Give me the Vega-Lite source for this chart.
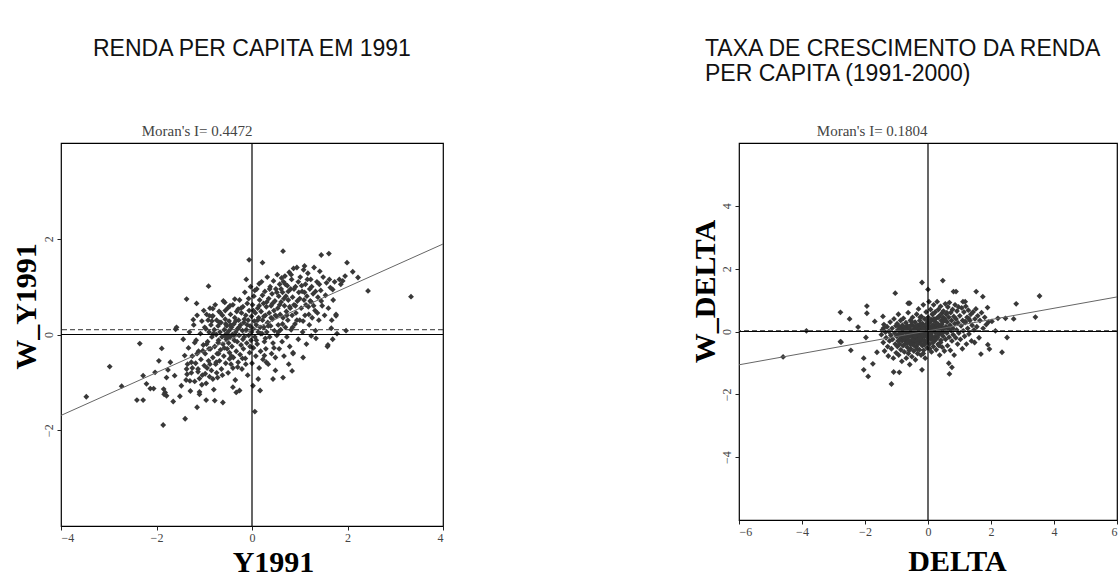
{
  "$schema": "https://vega.github.io/schema/vega-lite/v6.json",
  "background": "white",
  "padding": {"left": 10, "top": 37, "right": 0, "bottom": 0},
  "config": {
    "view": {"stroke": "black", "strokeWidth": 1.2},
    "axis": {"domain": false, "grid": false, "tickColor": "#222", "tickSize": 4, "labelFont": "Liberation Serif", "labelFontSize": 12, "labelColor": "#444", "labelPadding": 2, "titleFont": "Liberation Serif", "titleFontSize": 30, "titleFontWeight": "bold", "titleColor": "black"},
    "title": {"font": "Liberation Sans", "fontSize": 23, "fontWeight": "normal", "color": "#111", "frame": "group"}
  },
  "spacing": 243,
  "datasets": {
    "left": [
      {"x":-3.47,"y":-1.30},{"x":-2.98,"y":-0.67},{"x":-2.73,"y":-1.08},{"x":-2.35,"y":-0.19},{"x":-2.41,"y":-1.37},{"x":-2.28,"y":-1.37},{"x":-2.28,"y":-0.86},{"x":-2.21,"y":-1.03},{"x":-2.13,"y":-1.13},{"x":-2.06,"y":-1.13},{"x":-2.03,"y":-0.79},{"x":-1.95,"y":-0.55},{"x":-1.89,"y":-0.29},{"x":-1.86,"y":-1.89},{"x":-1.85,"y":-1.14},{"x":-1.82,"y":-1.21},{"x":-1.79,"y":-1.28},{"x":-1.84,"y":-1.25},{"x":-1.79,"y":-0.90},{"x":-1.76,"y":-0.74},{"x":-1.71,"y":-0.58},{"x":-1.65,"y":-1.40},{"x":-1.62,"y":-0.86},{"x":-1.60,"y":0.11},{"x":-1.58,"y":0.15},{"x":-1.51,"y":-1.29},{"x":-1.48,"y":-1.07},{"x":-1.44,"y":-0.10},{"x":-1.41,"y":-0.44},{"x":-1.40,"y":-1.76},{"x":-1.37,"y":0.74},{"x":-1.37,"y":-0.72},{"x":-1.36,"y":-0.83},{"x":-1.30,"y":-0.97},{"x":-1.27,"y":-0.58},{"x":-1.23,"y":0.31},{"x":-1.20,"y":-0.17},{"x":-1.16,"y":0.65},{"x":-1.15,"y":-1.52},{"x":-1.13,"y":-0.78},{"x":-1.10,"y":-0.92},{"x":-1.10,"y":-1.20},{"x":-1.03,"y":-0.34},{"x":-0.99,"y":0.15},{"x":-0.96,"y":-1.37},{"x":-0.91,"y":1.01},{"x":-0.89,"y":0.39},{"x":-0.82,"y":0.39},{"x":-0.82,"y":0.54},{"x":-0.82,"y":-0.93},{"x":-0.78,"y":-1.38},{"x":-0.75,"y":-0.58},{"x":-0.71,"y":-0.17},{"x":-0.68,"y":0.25},{"x":-0.61,"y":-1.42},{"x":-0.57,"y":0.67},{"x":-0.54,"y":-0.03},{"x":-0.47,"y":-0.51},{"x":-0.40,"y":-1.10},{"x":-0.33,"y":-1.21},{"x":-0.26,"y":-1.17},{"x":-0.36,"y":0.74},{"x":-0.29,"y":0.53},{"x":-0.12,"y":1.15},{"x":-0.06,"y":1.56},{"x":0.02,"y":-1.07},{"x":0.06,"y":-1.61},{"x":0.15,"y":1.06},{"x":0.17,"y":-1.17},{"x":0.22,"y":1.50},{"x":0.26,"y":-0.44},{"x":0.30,"y":-0.58},{"x":0.13,"y":-0.93},{"x":0.44,"y":-0.93},{"x":0.49,"y":-0.48},{"x":0.65,"y":1.74},{"x":0.65,"y":-0.90},{"x":0.77,"y":-0.62},{"x":0.84,"y":-0.76},{"x":0.86,"y":-0.38},{"x":1.07,"y":-0.48},{"x":1.10,"y":1.43},{"x":1.24,"y":-0.03},{"x":1.33,"y":0.08},{"x":1.45,"y":1.66},{"x":1.61,"y":1.69},{"x":1.59,"y":-0.22},{"x":1.69,"y":-0.10},{"x":1.66,"y":0.13},{"x":1.76,"y":0.39},{"x":1.97,"y":0.08},{"x":1.99,"y":1.50},{"x":2.11,"y":1.31},{"x":2.22,"y":1.19},{"x":2.43,"y":0.91},{"x":3.33,"y":0.79},{"x":1.83,"y":1.15},{"x":1.69,"y":0.94},
      {"x":-1.38,"y":-0.95},{"x":-1.35,"y":-0.62},{"x":-1.33,"y":-0.28},{"x":-1.31,"y":0.05},{"x":-1.29,"y":-1.18},{"x":-1.27,"y":-0.80},{"x":-1.25,"y":-0.45},{"x":-1.22,"y":0.20},{"x":-1.20,"y":-0.98},{"x":-1.18,"y":-0.60},{"x":-1.17,"y":-0.12},{"x":-1.15,"y":0.40},{"x":-1.13,"y":-0.72},{"x":-1.12,"y":-0.35},{"x":-1.10,"y":-1.25},{"x":-1.08,"y":0.02},{"x":-1.07,"y":-0.52},{"x":-1.05,"y":0.28},{"x":-1.04,"y":-0.85},{"x":-1.02,"y":-0.22},{"x":-1.01,"y":0.50},{"x":-1.00,"y":-0.65},
      {"x":-0.98,"y":-0.40},{"x":-0.97,"y":0.12},{"x":-0.96,"y":-1.02},{"x":-0.95,"y":0.42},{"x":-0.94,"y":-0.70},{"x":-0.93,"y":-0.15},{"x":-0.92,"y":0.30},{"x":-0.91,"y":-0.55},{"x":-0.90,"y":0.05},{"x":-0.89,"y":-0.88},{"x":-0.88,"y":0.55},{"x":-0.87,"y":-0.30},{"x":-0.86,"y":0.20},{"x":-0.85,"y":-0.75},{"x":-0.84,"y":-0.05},{"x":-0.83,"y":0.38},{"x":-0.82,"y":-0.48},{"x":-0.80,"y":-1.15},{"x":-0.79,"y":0.10},{"x":-0.78,"y":-0.25},{"x":-0.77,"y":0.62},{"x":-0.76,"y":-0.62},{"x":-0.75,"y":0.00},{"x":-0.74,"y":0.30},{"x":-0.73,"y":-0.40},{"x":-0.72,"y":-0.90},{"x":-0.71,"y":0.18},{"x":-0.70,"y":-0.12},{"x":-0.69,"y":0.48},{"x":-0.68,"y":-0.55},{"x":-0.67,"y":0.05},{"x":-0.66,"y":-0.32},{"x":-0.65,"y":0.25},{"x":-0.64,"y":-0.72},{"x":-0.63,"y":-0.05},{"x":-0.62,"y":0.40},{"x":-0.61,"y":-0.20},{"x":-0.60,"y":0.70},
      {"x":-0.59,"y":-0.45},{"x":-0.58,"y":0.10},{"x":-0.57,"y":-0.02},{"x":-0.56,"y":0.32},{"x":-0.55,"y":-0.60},{"x":-0.54,"y":-0.10},{"x":-0.53,"y":0.18},{"x":-0.52,"y":-0.30},{"x":-0.52,"y":0.03},{"x":-0.51,"y":0.55},{"x":-0.50,"y":-0.80},{"x":-0.49,"y":-0.18},{"x":-0.48,"y":0.08},{"x":-0.48,"y":0.28},{"x":-0.47,"y":-0.38},{"x":-0.46,"y":-0.05},{"x":-0.45,"y":0.42},{"x":-0.44,"y":-0.62},{"x":-0.43,"y":0.15},{"x":-0.42,"y":-0.25},{"x":-0.41,"y":0.00},{"x":-0.40,"y":0.62},{"x":-0.39,"y":-0.48},{"x":-0.38,"y":0.22},{"x":-0.37,"y":-0.12},{"x":-0.36,"y":0.35},{"x":-0.35,"y":-0.95},{"x":-0.34,"y":0.05},{"x":-0.33,"y":-0.35},{"x":-0.32,"y":0.48},{"x":-0.31,"y":-0.15},{"x":-0.30,"y":0.12},{"x":-0.29,"y":-0.58},{"x":-0.28,"y":0.30},{"x":-0.27,"y":-0.02},{"x":-0.26,"y":0.72},{"x":-0.25,"y":-0.42},{"x":-0.24,"y":0.20},{"x":-0.23,"y":-0.22},{"x":-0.22,"y":0.45},{"x":-0.21,"y":-0.72},{"x":-0.20,"y":0.08},
      {"x":-0.19,"y":0.58},{"x":-0.18,"y":-0.30},{"x":-0.17,"y":0.25},{"x":-0.16,"y":-0.05},{"x":-0.15,"y":0.88},{"x":-0.14,"y":-0.50},{"x":-0.13,"y":0.40},{"x":-0.12,"y":0.10},{"x":-0.11,"y":-0.18},{"x":-0.10,"y":0.65},{"x":-0.09,"y":-0.85},{"x":-0.08,"y":0.30},{"x":-0.07,"y":-0.02},{"x":-0.06,"y":0.50},{"x":-0.05,"y":-0.38},{"x":-0.04,"y":0.18},{"x":-0.03,"y":1.00},{"x":-0.02,"y":-0.12},{"x":-0.01,"y":0.38},{"x":0.00,"y":-0.60},{"x":0.01,"y":0.62},{"x":0.02,"y":0.12},{"x":0.03,"y":-0.28},{"x":0.04,"y":0.80},{"x":0.05,"y":0.28},{"x":0.06,"y":-0.05},{"x":0.07,"y":0.45},{"x":0.08,"y":-0.45},{"x":0.09,"y":0.20},{"x":0.10,"y":0.95},{"x":0.11,"y":-0.20},{"x":0.12,"y":0.55},{"x":0.13,"y":0.05},{"x":0.14,"y":0.35},{"x":0.15,"y":-0.70},{"x":0.16,"y":0.72},{"x":0.17,"y":0.15},{"x":0.18,"y":-0.35},{"x":0.19,"y":0.48},{"x":0.20,"y":1.10},
      {"x":0.21,"y":0.02},{"x":0.22,"y":0.30},{"x":0.23,"y":-0.52},{"x":0.24,"y":0.65},{"x":0.25,"y":0.15},{"x":0.26,"y":-0.15},{"x":0.27,"y":0.90},{"x":0.28,"y":0.40},{"x":0.29,"y":-0.30},{"x":0.30,"y":0.58},{"x":0.31,"y":0.05},{"x":0.32,"y":1.20},{"x":0.33,"y":0.25},{"x":0.34,"y":-0.62},{"x":0.35,"y":0.75},{"x":0.36,"y":0.45},{"x":0.37,"y":-0.05},{"x":0.38,"y":1.00},{"x":0.39,"y":0.18},{"x":0.40,"y":0.60},{"x":0.41,"y":-0.40},{"x":0.42,"y":0.85},{"x":0.43,"y":0.32},{"x":0.44,"y":-0.18},{"x":0.45,"y":1.12},{"x":0.46,"y":0.50},{"x":0.47,"y":0.08},{"x":0.48,"y":0.70},{"x":0.49,"y":-0.75},{"x":0.50,"y":0.95},{"x":0.51,"y":0.38},{"x":0.52,"y":-0.02},{"x":0.53,"y":1.25},{"x":0.54,"y":0.55},{"x":0.55,"y":0.20},{"x":0.56,"y":0.80},{"x":0.57,"y":-0.30},{"x":0.58,"y":1.05},{"x":0.59,"y":0.42},{"x":0.60,"y":0.10},
      {"x":0.61,"y":0.68},{"x":0.62,"y":1.18},{"x":0.63,"y":-0.15},{"x":0.64,"y":0.88},{"x":0.65,"y":0.35},{"x":0.66,"y":1.10},{"x":0.67,"y":-0.45},{"x":0.68,"y":0.60},{"x":0.69,"y":1.22},{"x":0.70,"y":0.15},{"x":0.71,"y":0.80},{"x":0.72,"y":0.48},{"x":0.73,"y":-0.05},{"x":0.74,"y":1.02},{"x":0.75,"y":0.30},{"x":0.76,"y":0.72},{"x":0.78,"y":1.30},{"x":0.79,"y":-0.25},{"x":0.80,"y":0.55},{"x":0.81,"y":0.95},{"x":0.82,"y":0.10},{"x":0.83,"y":1.15},{"x":0.84,"y":0.40},{"x":0.85,"y":0.78},{"x":0.86,"y":-0.40},{"x":0.87,"y":1.38},{"x":0.88,"y":0.62},{"x":0.90,"y":0.22},{"x":0.91,"y":1.00},{"x":0.92,"y":0.45},{"x":0.94,"y":1.40},{"x":0.95,"y":0.70},{"x":0.97,"y":-0.10},{"x":0.98,"y":0.88},{"x":1.00,"y":0.30},
      {"x":1.01,"y":1.20},{"x":1.03,"y":0.55},{"x":1.05,"y":0.90},{"x":1.06,"y":0.05},{"x":1.08,"y":1.35},{"x":1.09,"y":0.72},{"x":1.11,"y":0.40},{"x":1.12,"y":1.05},{"x":1.14,"y":-0.20},{"x":1.15,"y":0.80},{"x":1.17,"y":1.28},{"x":1.18,"y":0.58},{"x":1.20,"y":0.20},{"x":1.21,"y":0.95},{"x":1.23,"y":1.15},{"x":1.24,"y":0.68},{"x":1.26,"y":0.35},{"x":1.28,"y":0.85},{"x":1.30,"y":1.40},{"x":1.32,"y":0.50},{"x":1.34,"y":-0.08},{"x":1.36,"y":1.10},{"x":1.38,"y":0.78},{"x":1.40,"y":0.30},
      {"x":1.42,"y":1.32},{"x":1.44,"y":0.92},{"x":1.47,"y":0.60},{"x":1.49,"y":1.20},{"x":1.52,"y":0.40},{"x":1.54,"y":0.82},{"x":1.56,"y":1.08},{"x":1.58,"y":-0.25},{"x":1.60,"y":0.55},{"x":1.62,"y":1.15},{"x":1.64,"y":0.98},{"x":1.67,"y":0.30},{"x":1.70,"y":0.72},{"x":1.73,"y":1.10},{"x":1.76,"y":0.42},{"x":1.78,"y":0.02},{"x":1.86,"y":1.05},{"x":1.90,"y":1.12},{"x":1.95,"y":1.22},
      {"x":-0.95,"y":-0.20},{"x":-0.88,"y":-0.62},{"x":-0.81,"y":0.02},{"x":-0.74,"y":-0.80},{"x":-0.66,"y":0.45},{"x":-0.58,"y":-0.28},{"x":-0.55,"y":0.22},{"x":-0.50,"y":-0.05},{"x":-0.46,"y":0.60},{"x":-0.43,"y":-0.45},{"x":-0.38,"y":-0.02},{"x":-0.34,"y":0.28},{"x":-0.30,"y":-0.68},{"x":-0.27,"y":0.15},{"x":-0.23,"y":0.55},{"x":-0.19,"y":-0.10},{"x":-0.16,"y":0.32},{"x":-0.13,"y":-0.62},{"x":-0.10,"y":0.20},{"x":-0.07,"y":0.75},{"x":-0.04,"y":-0.25},{"x":-0.01,"y":0.05},{"x":0.03,"y":0.50},{"x":0.06,"y":0.92},{"x":0.09,"y":-0.12},{"x":0.12,"y":0.30},{"x":0.15,"y":0.60},{"x":0.18,"y":0.02},{"x":0.22,"y":0.82},{"x":0.25,"y":0.38},{"x":0.28,"y":-0.08},{"x":0.31,"y":0.68},{"x":0.34,"y":0.18},{"x":0.37,"y":0.95},{"x":0.40,"y":0.35},{"x":0.43,"y":0.65},{"x":0.46,"y":-0.28},{"x":0.49,"y":0.40},{"x":0.52,"y":0.88},{"x":0.55,"y":0.05},{"x":0.58,"y":0.62},{"x":0.61,"y":0.95},{"x":0.64,"y":0.22},{"x":0.67,"y":0.75},{"x":0.70,"y":1.05},{"x":0.73,"y":0.40},{"x":0.76,"y":0.90},{"x":0.79,"y":0.58},{"x":0.82,"y":1.25},{"x":0.85,"y":0.15},{"x":0.88,"y":0.95},{"x":0.91,"y":0.60},{"x":0.94,"y":0.30},{"x":0.97,"y":1.10},{"x":1.00,"y":0.75},{"x":1.04,"y":1.02},{"x":1.07,"y":0.28},{"x":1.10,"y":0.88},{"x":1.13,"y":0.62},{"x":1.16,"y":1.15},{"x":1.19,"y":0.42},{"x":1.22,"y":0.70},{"x":1.25,"y":1.00},{"x":1.29,"y":0.60},{"x":1.33,"y":0.90},{"x":1.37,"y":0.45},{"x":1.41,"y":1.05},{"x":1.45,"y":0.70},{"x":-1.25,"y":-0.70},{"x":-1.15,"y":-0.40},{"x":-1.05,"y":-1.05},{"x":-0.98,"y":-0.82},{"x":-0.90,"y":-0.30},{"x":-0.84,"y":0.28},{"x":-0.70,"y":-0.40},{"x":-0.62,"y":-0.85},{"x":-0.56,"y":0.50},{"x":-0.45,"y":0.20},{"x":-0.40,"y":-0.70},{"x":-0.20,"y":-0.50}
    ],
    "right": [
      {"x":-4.60,"y":-0.81},{"x":-3.86,"y":0.02},{"x":-2.78,"y":0.61},{"x":-2.78,"y":-0.32},{"x":-2.76,"y":-0.34},{"x":-2.49,"y":0.40},{"x":-2.45,"y":-0.60},{"x":-2.22,"y":0.14},{"x":-2.04,"y":-0.85},{"x":-2.04,"y":-1.22},{"x":-1.97,"y":-0.19},{"x":-1.94,"y":0.81},{"x":-1.94,"y":0.58},{"x":-1.90,"y":-1.43},{"x":-1.75,"y":-1.03},{"x":-1.69,"y":0.32},{"x":-1.62,"y":-0.66},{"x":-1.43,"y":0.48},{"x":-1.41,"y":0.11},{"x":-1.16,"y":-1.67},{"x":-1.09,"y":-1.29},{"x":-1.04,"y":1.22},{"x":-0.91,"y":-1.30},{"x":-0.63,"y":0.90},{"x":-0.58,"y":0.90},{"x":-0.19,"y":-1.22},{"x":-0.19,"y":1.56},{"x":0.00,"y":1.34},{"x":0.47,"y":1.62},{"x":0.66,"y":-1.01},{"x":0.68,"y":-1.35},{"x":0.76,"y":-1.14},{"x":0.81,"y":1.27},{"x":0.89,"y":1.27},{"x":1.11,"y":0.95},{"x":1.18,"y":0.95},{"x":1.53,"y":1.27},{"x":1.48,"y":-0.35},{"x":1.68,"y":-0.72},{"x":1.74,"y":1.11},{"x":1.89,"y":0.76},{"x":1.90,"y":-0.42},{"x":1.95,"y":-0.56},{"x":2.03,"y":0.32},{"x":2.14,"y":0.02},{"x":2.35,"y":-0.66},{"x":2.46,"y":0.42},{"x":2.51,"y":-0.19},{"x":2.72,"y":0.40},{"x":2.80,"y":0.88},{"x":3.41,"y":0.46},{"x":3.54,"y":1.13},{"x":2.22,"y":0.42},{"x":1.18,"y":0.32},{"x":1.29,"y":0.42},
      {"x":-1.48,"y":-0.10},{"x":-1.45,"y":0.05},{"x":-1.42,"y":-0.35},{"x":-1.40,"y":0.22},{"x":-1.38,"y":-0.62},{"x":-1.35,"y":-0.02},{"x":-1.33,"y":-0.20},{"x":-1.30,"y":0.15},{"x":-1.28,"y":-0.48},{"x":-1.26,"y":-0.78},{"x":-1.24,"y":0.00},{"x":-1.22,"y":-0.30},{"x":-1.20,"y":0.30},{"x":-1.18,"y":-0.12},{"x":-1.16,"y":-0.55},{"x":-1.14,"y":0.10},{"x":-1.12,"y":-0.25},{"x":-1.10,"y":-0.85},{"x":-1.08,"y":0.40},{"x":-1.06,"y":-0.05},{"x":-1.04,"y":-0.40},{"x":-1.02,"y":0.18},{"x":-1.01,"y":-0.68},
      {"x":-0.99,"y":-0.15},{"x":-0.98,"y":0.25},{"x":-0.97,"y":-0.48},{"x":-0.96,"y":0.05},{"x":-0.95,"y":-0.30},{"x":-0.94,"y":0.55},{"x":-0.93,"y":-0.75},{"x":-0.92,"y":-0.08},{"x":-0.91,"y":0.15},{"x":-0.90,"y":-0.40},{"x":-0.89,"y":0.00},{"x":-0.88,"y":-0.22},{"x":-0.87,"y":0.35},{"x":-0.86,"y":-0.58},{"x":-0.85,"y":-0.12},{"x":-0.84,"y":0.10},{"x":-0.83,"y":-0.95},{"x":-0.82,"y":-0.30},{"x":-0.81,"y":0.20},{"x":-0.80,"y":-0.05},{"x":-0.79,"y":-0.45},{"x":-0.78,"y":0.42},{"x":-0.77,"y":-0.18},{"x":-0.76,"y":0.02},{"x":-0.75,"y":-0.65},{"x":-0.74,"y":-0.28},{"x":-0.73,"y":0.12},{"x":-0.72,"y":-0.02},{"x":-0.71,"y":-0.38},{"x":-0.70,"y":0.28},{"x":-0.69,"y":-0.85},{"x":-0.68,"y":-0.12},{"x":-0.67,"y":0.05},{"x":-0.66,"y":-0.50},{"x":-0.65,"y":0.18},{"x":-0.64,"y":-0.25},{"x":-0.63,"y":0.60},{"x":-0.62,"y":-0.70},{"x":-0.61,"y":-0.05},{"x":-0.60,"y":-0.35},{"x":-0.59,"y":0.10},{"x":-0.58,"y":-1.05},{"x":-0.57,"y":-0.15},{"x":-0.56,"y":0.35},{"x":-0.55,"y":-0.55},{"x":-0.54,"y":0.00},{"x":-0.53,"y":-0.30},{"x":-0.52,"y":0.22},{"x":-0.51,"y":-0.80},{"x":-0.50,"y":-0.10},
      {"x":-0.49,"y":0.45},{"x":-0.48,"y":-0.40},{"x":-0.47,"y":0.05},{"x":-0.46,"y":-0.20},{"x":-0.45,"y":-0.62},{"x":-0.44,"y":0.15},{"x":-0.43,"y":-0.05},{"x":-0.42,"y":-0.32},{"x":-0.41,"y":0.30},{"x":-0.40,"y":-0.90},{"x":-0.39,"y":-0.12},{"x":-0.38,"y":0.08},{"x":-0.37,"y":-0.48},{"x":-0.36,"y":0.55},{"x":-0.35,"y":-0.25},{"x":-0.34,"y":0.00},{"x":-0.33,"y":-0.70},{"x":-0.32,"y":0.20},{"x":-0.31,"y":-0.15},{"x":-0.30,"y":0.72},{"x":-0.29,"y":-0.38},{"x":-0.28,"y":0.05},{"x":-0.27,"y":-0.58},{"x":-0.26,"y":0.35},{"x":-0.25,"y":-0.08},{"x":-0.24,"y":-0.30},{"x":-0.23,"y":0.12},{"x":-0.22,"y":-0.75},{"x":-0.21,"y":0.48},{"x":-0.20,"y":-0.18},{"x":-0.19,"y":0.02},{"x":-0.18,"y":-0.45},{"x":-0.17,"y":0.25},{"x":-0.16,"y":-0.10},{"x":-0.15,"y":0.85},{"x":-0.14,"y":-0.60},{"x":-0.13,"y":0.10},{"x":-0.12,"y":-0.28},{"x":-0.11,"y":0.40},{"x":-0.10,"y":-0.02},{"x":-0.09,"y":-0.85},{"x":-0.08,"y":0.18},{"x":-0.07,"y":-0.35},{"x":-0.06,"y":0.62},{"x":-0.05,"y":-0.12},{"x":-0.04,"y":0.05},{"x":-0.03,"y":-0.52},{"x":-0.02,"y":0.30},{"x":-0.01,"y":-0.20},
      {"x":-0.45,"y":-0.10},{"x":-0.40,"y":-0.22},{"x":-0.35,"y":-0.05},{"x":-0.32,"y":-0.32},{"x":-0.28,"y":-0.15},{"x":-0.25,"y":0.02},{"x":-0.22,"y":-0.25},{"x":-0.18,"y":-0.08},{"x":-0.15,"y":-0.30},{"x":-0.12,"y":0.00},{"x":-0.38,"y":-0.30},{"x":-0.30,"y":0.10},{"x":-0.20,"y":0.15},{"x":-0.42,"y":0.02},{"x":-0.10,"y":-0.15},
      {"x":0.01,"y":0.45},{"x":0.02,"y":-0.10},{"x":0.03,"y":0.95},{"x":0.04,"y":0.15},{"x":0.05,"y":-0.40},{"x":0.06,"y":0.28},{"x":0.07,"y":-0.05},{"x":0.08,"y":0.70},{"x":0.09,"y":-0.25},{"x":0.10,"y":0.08},{"x":0.11,"y":-0.65},{"x":0.12,"y":0.38},{"x":0.13,"y":0.00},{"x":0.14,"y":0.55},{"x":0.15,"y":-0.18},{"x":0.16,"y":0.20},{"x":0.17,"y":-0.48},{"x":0.18,"y":0.85},{"x":0.19,"y":0.05},{"x":0.20,"y":-0.30},{"x":0.21,"y":0.32},{"x":0.22,"y":-0.02},{"x":0.23,"y":0.62},{"x":0.24,"y":-0.15},{"x":0.25,"y":0.15},{"x":0.26,"y":-0.58},{"x":0.27,"y":0.42},{"x":0.28,"y":0.02},{"x":0.29,"y":0.95},{"x":0.30,"y":-0.20},{"x":0.31,"y":0.25},{"x":0.32,"y":-0.40},{"x":0.33,"y":0.70},{"x":0.34,"y":0.08},{"x":0.35,"y":-0.10},{"x":0.36,"y":0.50},{"x":0.37,"y":-0.75},{"x":0.38,"y":0.18},{"x":0.39,"y":0.00},{"x":0.40,"y":0.80},{"x":0.41,"y":-0.28},{"x":0.42,"y":0.35},{"x":0.43,"y":-0.05},{"x":0.44,"y":0.58},{"x":0.45,"y":-0.50},{"x":0.46,"y":0.12},{"x":0.47,"y":0.30},{"x":0.48,"y":-0.15},{"x":0.49,"y":0.65},
      {"x":0.51,"y":0.00},{"x":0.52,"y":-0.62},{"x":0.53,"y":0.40},{"x":0.55,"y":0.88},{"x":0.56,"y":-0.25},{"x":0.57,"y":0.15},{"x":0.58,"y":0.55},{"x":0.60,"y":-0.05},{"x":0.61,"y":0.30},{"x":0.62,"y":-0.45},{"x":0.63,"y":0.78},{"x":0.65,"y":0.08},{"x":0.66,"y":0.45},{"x":0.67,"y":-0.18},{"x":0.68,"y":0.92},{"x":0.70,"y":0.20},{"x":0.71,"y":-0.60},{"x":0.72,"y":0.60},{"x":0.74,"y":0.02},{"x":0.75,"y":0.35},{"x":0.76,"y":-0.30},{"x":0.78,"y":0.70},{"x":0.79,"y":0.10},{"x":0.80,"y":-0.10},{"x":0.82,"y":0.48},{"x":0.83,"y":-0.75},{"x":0.85,"y":0.25},{"x":0.86,"y":0.85},{"x":0.88,"y":-0.20},{"x":0.89,"y":0.40},{"x":0.91,"y":0.05},{"x":0.92,"y":0.65},{"x":0.94,"y":-0.40},{"x":0.95,"y":0.28},{"x":0.97,"y":0.78},{"x":0.98,"y":-0.05},
      {"x":1.01,"y":0.50},{"x":1.03,"y":-0.25},{"x":1.05,"y":0.18},{"x":1.07,"y":0.75},{"x":1.09,"y":-0.55},{"x":1.10,"y":0.35},{"x":1.12,"y":0.02},{"x":1.14,"y":0.62},{"x":1.16,"y":-0.15},{"x":1.18,"y":0.28},{"x":1.20,"y":0.80},{"x":1.22,"y":-0.40},{"x":1.24,"y":0.45},{"x":1.26,"y":0.10},{"x":1.28,"y":0.68},{"x":1.30,"y":-0.08},{"x":1.33,"y":0.35},{"x":1.36,"y":0.55},{"x":1.38,"y":-0.30},{"x":1.40,"y":0.20},{"x":1.43,"y":0.62},{"x":1.46,"y":0.05},{"x":1.49,"y":0.40},
      {"x":1.52,"y":0.72},{"x":1.55,"y":0.15},{"x":1.58,"y":0.50},{"x":1.62,"y":-0.20},{"x":1.65,"y":0.35},{"x":1.70,"y":0.60},{"x":1.75,"y":0.10},{"x":1.80,"y":0.45},{"x":1.85,"y":0.22},{"x":1.92,"y":0.30},
      {"x":-0.75,"y":-0.20},{"x":-0.70,"y":0.05},{"x":-0.66,"y":-0.35},{"x":-0.62,"y":-0.12},{"x":-0.58,"y":0.15},{"x":-0.55,"y":-0.42},{"x":-0.52,"y":-0.05},{"x":-0.48,"y":-0.25},{"x":-0.44,"y":-0.45},{"x":-0.41,"y":-0.15},{"x":-0.37,"y":0.18},{"x":-0.34,"y":-0.38},{"x":-0.31,"y":-0.02},{"x":-0.27,"y":-0.22},{"x":-0.24,"y":0.25},{"x":-0.21,"y":-0.40},{"x":-0.17,"y":-0.12},{"x":-0.14,"y":0.08},{"x":-0.11,"y":-0.42},{"x":-0.08,"y":-0.05},{"x":-0.05,"y":0.22},{"x":-0.02,"y":-0.30},{"x":0.01,"y":0.10},{"x":0.04,"y":-0.18},{"x":0.07,"y":0.35},{"x":0.10,"y":-0.08},{"x":0.13,"y":0.18},{"x":0.16,"y":-0.35},{"x":0.19,"y":0.40},{"x":0.22,"y":0.10},{"x":0.25,"y":-0.25},{"x":0.28,"y":0.22},{"x":0.31,"y":-0.05},{"x":0.34,"y":0.45},{"x":0.37,"y":0.05},{"x":0.40,"y":-0.35},{"x":0.44,"y":0.22},{"x":0.48,"y":0.45},{"x":0.52,"y":0.10},{"x":0.56,"y":0.35},{"x":-0.60,"y":-0.60},{"x":-0.50,"y":0.30},{"x":-0.35,"y":-0.55},{"x":-0.25,"y":0.45},{"x":-0.15,"y":-0.70},{"x":-0.05,"y":0.40},{"x":0.05,"y":-0.55},{"x":0.15,"y":0.55},{"x":0.35,"y":-0.45},{"x":0.60,"y":0.60}
    ]
  },
  "hconcat": [
    {
      "width": 382,
      "height": 383,
      "title": {"text": "RENDA PER CAPITA EM 1991", "anchor": "start", "dx": 32, "offset": 63},
      "layer": [
        {
          "data": {"name": "left"},
          "mark": {"type": "point", "shape": "diamond", "filled": true, "size": 34, "color": "#383838", "opacity": 1},
          "encoding": {
            "x": {"field": "x", "type": "quantitative", "scale": {"domain": [-4, 4], "nice": false, "zero": false},
                  "axis": {"values": [-4, -2, 0, 2, 4], "title": "Y1991", "titleX": 212, "titleY": 45, "titleBaseline": "alphabetic"}},
            "y": {"field": "y", "type": "quantitative", "scale": {"domain": [-4, 4], "nice": false, "zero": false},
                  "axis": {"values": [-2, 0, 2], "labelAngle": -90, "title": "W_Y1991", "titleX": -35, "titleY": 163, "titleBaseline": "middle", "titleAngle": -90}}
          }
        },
        {
          "data": {"values": [{"x": -4, "y": -1.69}, {"x": 4, "y": 1.89}]},
          "mark": {"type": "line", "color": "#666", "strokeWidth": 1},
          "encoding": {"x": {"field": "x", "type": "quantitative"}, "y": {"field": "y", "type": "quantitative"}}
        },
        {
          "data": {"values": [{"v": 0}]},
          "mark": {"type": "rule", "color": "black", "strokeWidth": 1.2},
          "encoding": {"x": {"field": "v", "type": "quantitative"}}
        },
        {
          "data": {"values": [{"v": 0}]},
          "mark": {"type": "rule", "color": "black", "strokeWidth": 1.2},
          "encoding": {"y": {"field": "v", "type": "quantitative"}}
        },
        {
          "data": {"values": [{"v": 0.1}]},
          "mark": {"type": "rule", "color": "#333", "strokeWidth": 1, "strokeDash": [5, 3]},
          "encoding": {"y": {"field": "v", "type": "quantitative"}}
        },
        {
          "data": {"values": [{"label": "Moran's I= 0.4472", "x": -1.15, "y": 4.25}]},
          "mark": {"type": "text", "font": "Liberation Serif", "fontSize": 15, "color": "#444", "baseline": "middle", "align": "center", "clip": false},
          "encoding": {"x": {"field": "x", "type": "quantitative"}, "y": {"field": "y", "type": "quantitative"}, "text": {"field": "label"}}
        }
      ]
    },
    {
      "width": 378,
      "height": 377,
      "title": {"text": ["TAXA DE CRESCIMENTO DA RENDA", "PER CAPITA (1991-2000)"], "anchor": "start", "dx": -34, "lineHeight": 25, "offset": 38},
      "layer": [
        {
          "data": {"name": "right"},
          "mark": {"type": "point", "shape": "diamond", "filled": true, "size": 34, "color": "#383838", "opacity": 1},
          "encoding": {
            "x": {"field": "x", "type": "quantitative", "scale": {"domain": [-6, 6], "nice": false, "zero": false},
                  "axis": {"values": [-6, -4, -2, 0, 2, 4, 6], "title": "DELTA", "titleX": 218, "titleY": 50, "titleBaseline": "alphabetic"}},
            "y": {"field": "y", "type": "quantitative", "scale": {"domain": [-6, 6], "nice": false, "zero": false},
                  "axis": {"values": [-4, -2, 0, 2, 4], "labelAngle": -90, "title": "W_DELTA", "titleX": -34, "titleY": 148, "titleBaseline": "middle", "titleAngle": -90}}
          }
        },
        {
          "data": {"values": [{"x": -6, "y": -1.06}, {"x": 6, "y": 1.10}]},
          "mark": {"type": "line", "color": "#666", "strokeWidth": 1},
          "encoding": {"x": {"field": "x", "type": "quantitative"}, "y": {"field": "y", "type": "quantitative"}}
        },
        {
          "data": {"values": [{"v": 0}]},
          "mark": {"type": "rule", "color": "black", "strokeWidth": 1.2},
          "encoding": {"x": {"field": "v", "type": "quantitative"}}
        },
        {
          "data": {"values": [{"v": 0}]},
          "mark": {"type": "rule", "color": "black", "strokeWidth": 1.2},
          "encoding": {"y": {"field": "v", "type": "quantitative"}}
        },
        {
          "data": {"values": [{"v": 0.03}]},
          "mark": {"type": "rule", "color": "#555", "strokeWidth": 1, "strokeDash": [5, 3]},
          "encoding": {"y": {"field": "v", "type": "quantitative"}}
        },
        {
          "data": {"values": [{"label": "Moran's I= 0.1804", "x": -1.77, "y": 6.38}]},
          "mark": {"type": "text", "font": "Liberation Serif", "fontSize": 15, "color": "#444", "baseline": "middle", "align": "center", "clip": false},
          "encoding": {"x": {"field": "x", "type": "quantitative"}, "y": {"field": "y", "type": "quantitative"}, "text": {"field": "label"}}
        }
      ]
    }
  ]
}
